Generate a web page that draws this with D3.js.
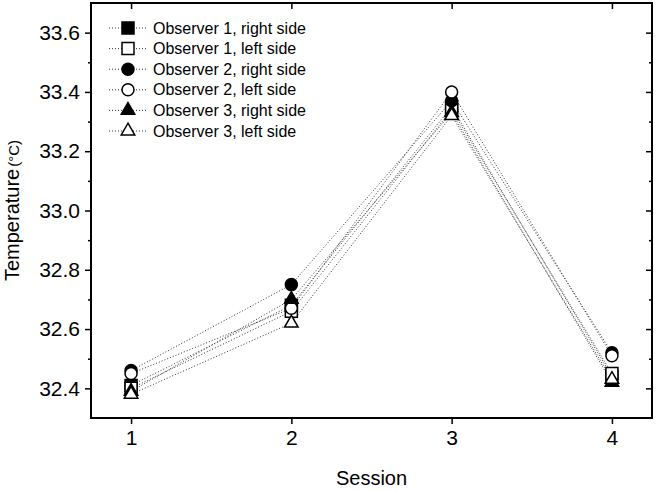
<!DOCTYPE html>
<html>
<head>
<meta charset="utf-8">
<script src="https://d3js.org/d3.v7.min.js"></script>
<style>
  body { margin: 0; background: #fff; }
  text { font-family: "Liberation Sans", Arial, sans-serif; fill: #000; }
</style>
</head>
<body>
<svg id="chart" width="656" height="491"></svg>
<script>
  var sessions = [1, 2, 3, 4]
  var seriesNames = ["Observer 1, right side", "Observer 1, left side",
                     "Observer 2, right side", "Observer 2, left side",
                     "Observer 3, right side", "Observer 3, left side"]
  var obs1Right = [32.41, 32.68, 33.35, 32.44]
  var obs1Left  = [32.40, 32.66, 33.34, 32.45]
  var obs2Right = [32.46, 32.75, 33.37, 32.52]
  var obs2Left  = [32.45, 32.67, 33.40, 32.51]
  var obs3Right = [32.39, 32.70, 33.33, 32.42]
  var obs3Left  = [32.38, 32.62, 33.32, 32.43]
  var yTicks = [32.4, 32.6, 32.8, 33.0, 33.2, 33.4, 33.6]
  var yMinor = [32.5, 32.7, 32.9, 33.1, 33.3, 33.5]

  var allSeries = [obs1Right, obs1Left, obs2Right, obs2Left, obs3Right, obs3Left]
  var shapes = ["square", "square", "circle", "circle", "triangle", "triangle"]
  var filled = [true, false, true, false, true, false]

  var margin = { top: 3, right: 4, bottom: 73, left: 91 }
  var width = 656, height = 491

  var svg = d3.select("#chart")

  var x = d3.scaleLinear()
      .domain([0.75, 4.25])
      .range([margin.left, width - margin.right])

  var y = d3.scaleLinear()
      .domain([32.3, 33.7])
      .range([height - margin.bottom, margin.top])

  function marker(sel, shape, isFilled, s) {
    var path
    if (shape == "square") {
      path = d3.symbol(d3.symbolSquare, s * s)
    } else if (shape == "circle") {
      path = d3.symbol(d3.symbolCircle, Math.PI * (s / 2) * (s / 2))
    } else {
      path = d3.symbol(d3.symbolTriangle, s * s * 0.55)
    }
    sel.append("path")
      .attr("d", path)
      .attr("fill", isFilled ? "#000" : "#fff")
      .attr("stroke", "#000")
      .attr("stroke-width", 1.5)
  }

  // lines
  var line = d3.line()
      .x((d, i) => x(sessions[i]))
      .y(d => y(d))

  svg.selectAll(".series")
    .data(allSeries)
    .join("path")
      .attr("class", "series")
      .attr("d", line)
      .attr("fill", "none")
      .attr("stroke", "#333")
      .attr("stroke-width", 1)
      .attr("stroke-dasharray", "1,2")

  // markers
  allSeries.forEach(function (vals, k) {
    vals.forEach(function (v, i) {
      var g = svg.append("g")
        .attr("transform", `translate(${x(sessions[i])},${y(v)})`)
      marker(g, shapes[k], filled[k], 12)
    })
  })

  // axes
  svg.append("g")
    .attr("transform", `translate(0,${height - margin.bottom})`)
    .call(d3.axisBottom(x).tickValues(sessions).tickFormat(d3.format("d")).tickSize(6).tickPadding(6))
    .call(g => g.select(".domain").remove())

  svg.append("g")
    .attr("transform", `translate(${margin.left},0)`)
    .call(d3.axisLeft(y).tickValues(yTicks).tickFormat(d3.format(".1f")).tickSize(6).tickPadding(5))
    .call(g => g.select(".domain").remove())

  svg.append("g")
    .attr("transform", `translate(${margin.left},0)`)
    .call(d3.axisLeft(y).tickValues(yMinor).tickFormat("").tickSize(3))
    .call(g => g.select(".domain").remove())

  // mirrored ticks inside on top and right
  svg.append("g")
    .attr("transform", `translate(0,${margin.top})`)
    .call(d3.axisBottom(x).tickValues(sessions).tickFormat("").tickSize(6))
    .call(g => g.select(".domain").remove())

  svg.append("g")
    .attr("transform", `translate(${width - margin.right},0)`)
    .call(d3.axisLeft(y).tickValues(yTicks).tickFormat("").tickSize(6))
    .call(g => g.select(".domain").remove())

  svg.append("g")
    .attr("transform", `translate(${width - margin.right},0)`)
    .call(d3.axisLeft(y).tickValues(yMinor).tickFormat("").tickSize(3))
    .call(g => g.select(".domain").remove())

  svg.selectAll(".tick line").attr("stroke", "#000").attr("stroke-width", 1.5)
  svg.selectAll(".tick text")
    .style("font-family", "'Liberation Sans', Arial, sans-serif")
    .style("font-size", "21px")
    .attr("fill", "#000")

  // frame
  svg.append("rect")
    .attr("x", margin.left)
    .attr("y", margin.top)
    .attr("width", width - margin.right - margin.left)
    .attr("height", height - margin.bottom - margin.top)
    .attr("fill", "none")
    .attr("stroke", "#000")
    .attr("stroke-width", 2)

  // axis titles
  svg.append("text")
    .attr("x", (margin.left + width - margin.right) / 2)
    .attr("y", 485)
    .attr("text-anchor", "middle")
    .style("font-size", "20px")
    .text("Session")

  var yt = svg.append("text")
    .attr("transform", `translate(19,${(margin.top + height - margin.bottom) / 2}) rotate(-90)`)
    .attr("text-anchor", "middle")
    .style("font-size", "20px")
  yt.append("tspan").text("Temperature")
  yt.append("tspan").style("font-size", "15px").attr("dx", 2).text("(°C)")

  // legend
  var legend = svg.append("g")
  seriesNames.forEach(function (name, k) {
    var ly = 28 + k * 20.6
    legend.append("line")
      .attr("x1", 109).attr("x2", 148)
      .attr("y1", ly).attr("y2", ly)
      .attr("stroke", "#333")
      .attr("stroke-width", 1)
      .attr("stroke-dasharray", "1,2")
    var g = legend.append("g").attr("transform", `translate(128,${ly})`)
    marker(g, shapes[k], filled[k], 12)
    legend.append("text")
      .attr("x", 153)
      .attr("y", ly + 5.5)
      .style("font-size", "16px")
      .text(name)
  })
</script>
</body>
</html>
